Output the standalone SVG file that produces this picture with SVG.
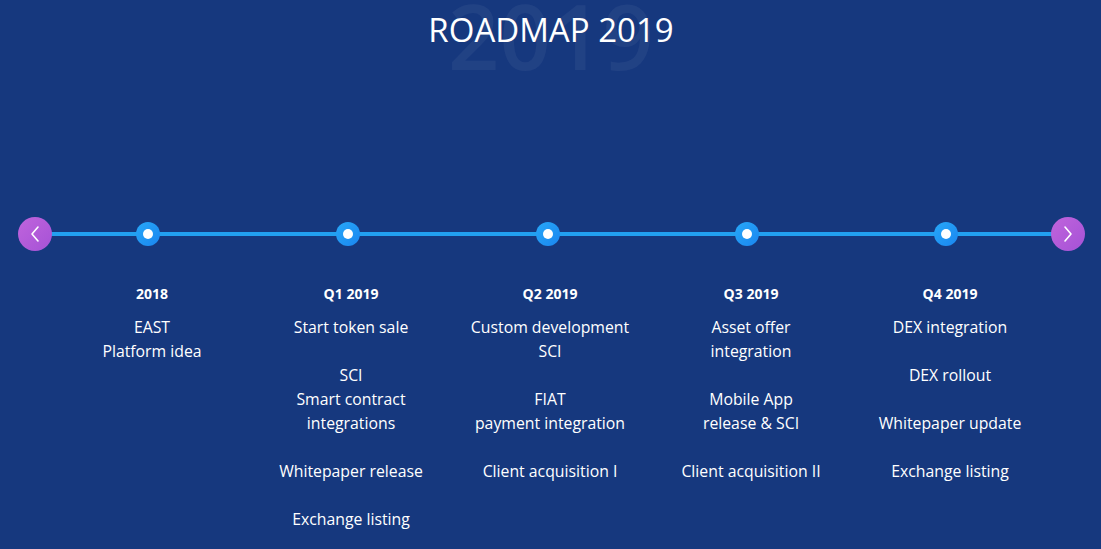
<svg xmlns="http://www.w3.org/2000/svg" width="1101" height="549" viewBox="0 0 1101 549">
<defs>
<style>
.bg{fill:#16387e}
.wm{font-family:"Open Sans","Liberation Sans",sans-serif;font-size:90px;font-weight:600;fill:#ffffff;fill-opacity:0.05;text-anchor:middle}
.title{font-family:"Open Sans","Liberation Sans",sans-serif;font-size:33px;font-weight:400;fill:#ffffff;text-anchor:middle}
.hd{font-family:"Open Sans","Liberation Sans",sans-serif;font-size:14px;font-weight:700;fill:#ffffff;text-anchor:middle}
.it{font-family:"Open Sans","Liberation Sans",sans-serif;font-size:15.8px;fill:#ffffff;text-anchor:middle}
.line{stroke:#22a0f0;stroke-width:4;fill:none}
.dot{fill:url(#blue)}
.inner{fill:#ffffff}
.nav{fill:url(#purple)}
.chev{stroke:#ffffff;stroke-width:1.6;fill:none;stroke-linecap:round;stroke-linejoin:round}
</style>
<linearGradient id="blue" x1="0" y1="0" x2="1" y2="1">
<stop offset="0" stop-color="#27a8f8"/>
<stop offset="1" stop-color="#1a86f0"/>
</linearGradient>
<linearGradient id="purple" x1="0" y1="0" x2="1" y2="1">
<stop offset="0" stop-color="#c064dc"/>
<stop offset="1" stop-color="#a552d6"/>
</linearGradient>
</defs>
<rect class="bg" x="0" y="0" width="1101" height="549"/>
<text class="wm" x="551" y="70">2019</text>
<text class="title" x="551" y="42">ROADMAP 2019</text>
<g id="connectors">
<line class="line" x1="36" y1="234" x2="1068" y2="234"/>
</g>
<g id="nav-prev">
<circle class="nav" cx="35" cy="234" r="17"/>
<path class="chev" d="M38 227 L32 234 L38 241"/>
</g>
<g id="nav-next">
<circle class="nav" cx="1068" cy="234" r="17"/>
<path class="chev" d="M1065 227 L1071 234 L1065 241"/>
</g>
<g id="node-2018">
<circle class="dot" cx="148" cy="234" r="12"/>
<circle class="inner" cx="148" cy="234" r="5"/>
<text class="hd" x="152" y="299">2018</text>
<text class="it" x="152" y="333">EAST</text>
<text class="it" x="152" y="357">Platform idea</text>
</g>
<g id="node-q1">
<circle class="dot" cx="348" cy="234" r="12"/>
<circle class="inner" cx="348" cy="234" r="5"/>
<text class="hd" x="351" y="299">Q1 2019</text>
<text class="it" x="351" y="333">Start token sale</text>
<text class="it" x="351" y="381">SCI</text>
<text class="it" x="351" y="405">Smart contract</text>
<text class="it" x="351" y="429">integrations</text>
<text class="it" x="351" y="477">Whitepaper release</text>
<text class="it" x="351" y="525">Exchange listing</text>
</g>
<g id="node-q2">
<circle class="dot" cx="548" cy="234" r="12"/>
<circle class="inner" cx="548" cy="234" r="5"/>
<text class="hd" x="550" y="299">Q2 2019</text>
<text class="it" x="550" y="333">Custom development</text>
<text class="it" x="550" y="357">SCI</text>
<text class="it" x="550" y="405">FIAT</text>
<text class="it" x="550" y="429">payment integration</text>
<text class="it" x="550" y="477">Client acquisition I</text>
</g>
<g id="node-q3">
<circle class="dot" cx="747" cy="234" r="12"/>
<circle class="inner" cx="747" cy="234" r="5"/>
<text class="hd" x="751" y="299">Q3 2019</text>
<text class="it" x="751" y="333">Asset offer</text>
<text class="it" x="751" y="357">integration</text>
<text class="it" x="751" y="405">Mobile App</text>
<text class="it" x="751" y="429">release &amp; SCI</text>
<text class="it" x="751" y="477">Client acquisition II</text>
</g>
<g id="node-q4">
<circle class="dot" cx="946" cy="234" r="12"/>
<circle class="inner" cx="946" cy="234" r="5"/>
<text class="hd" x="950" y="299">Q4 2019</text>
<text class="it" x="950" y="333">DEX integration</text>
<text class="it" x="950" y="381">DEX rollout</text>
<text class="it" x="950" y="429">Whitepaper update</text>
<text class="it" x="950" y="477">Exchange listing</text>
</g>
</svg>
